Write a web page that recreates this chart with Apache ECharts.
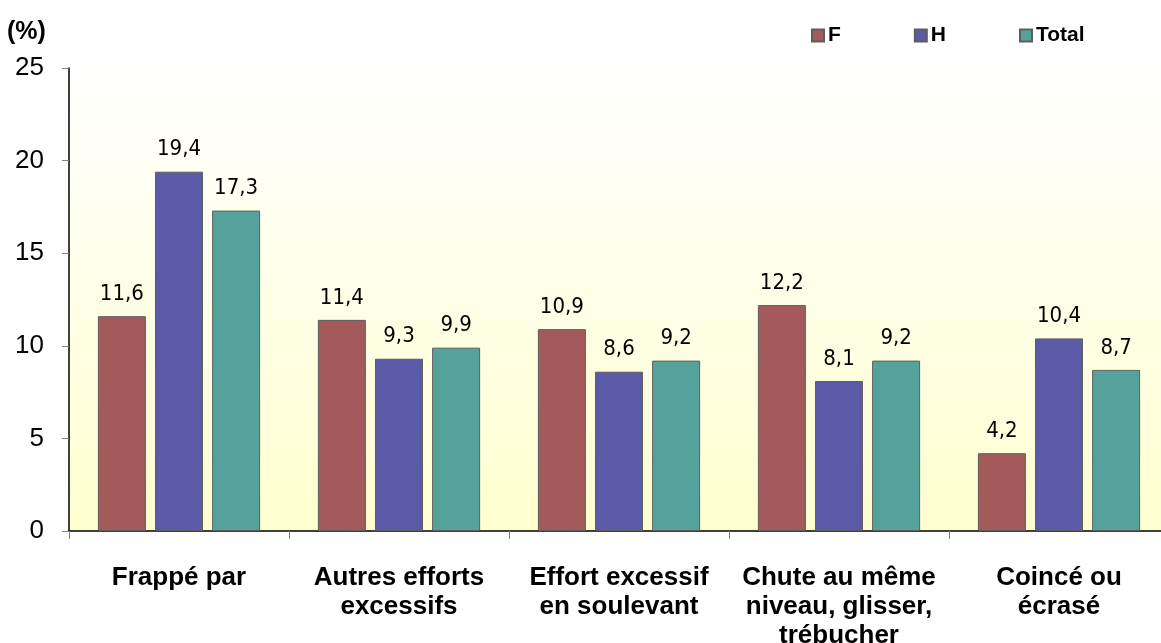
<!DOCTYPE html>
<html>
<head>
<meta charset="utf-8">
<script src="https://cdn.jsdelivr.net/npm/echarts@6/dist/echarts.min.js"></script>
<style>
html,body{margin:0;padding:0;background:#fff;}
#c{width:1161px;height:643px;}
</style>
</head>
<body>
<div id="c"></div>
<script>
var categories = ["Frappé par", "Autres efforts\nexcessifs", "Effort excessif\nen soulevant", "Chute au même\nniveau, glisser,\ntrébucher", "Coincé ou\nécrasé"];
var seriesNames = ["F", "H", "Total"];
var valuesF = [11.6, 11.4, 10.9, 12.2, 4.2];
var valuesH = [19.4, 9.3, 8.6, 8.1, 10.4];
var valuesTotal = [17.3, 9.9, 9.2, 9.2, 8.7];
var yTicks = [0, 5, 10, 15, 20, 25];

var colors = ["#a45a5a", "#5a5aa6", "#55a29c"];
var dataSets = [valuesF, valuesH, valuesTotal];

var chart = echarts.init(document.getElementById('c'), null, {renderer: 'canvas'});
var labelFont = "'Liberation Sans Narrow', 'Arial Narrow', 'DejaVu Sans Condensed', sans-serif";

var series = seriesNames.map(function (name, i) {
  return {
    name: name,
    type: 'bar',
    data: dataSets[i],
    barWidth: 48,
    barGap: '19%',
    itemStyle: {color: colors[i], borderColor: '#5e5e5e', borderWidth: 1},
    label: {
      show: true,
      position: 'top',
      distance: 11,
      color: '#000',
      fontSize: 22,
      fontFamily: labelFont,
      formatter: function (p) { return p.value.toFixed(1).replace('.', ','); }
    }
  };
});

chart.setOption({
  backgroundColor: '#ffffff',
  animation: false,
  textStyle: {fontFamily: 'Liberation Sans, Arial, sans-serif'},
  title: {
    text: '(%)',
    left: 2,
    top: 15,
    textStyle: {fontSize: 25, fontWeight: 'bold', color: '#000', fontFamily: 'Liberation Sans, Arial, sans-serif'}
  },
  legend: {
    data: seriesNames,
    left: 806,
    top: 20,
    itemWidth: 12,
    itemHeight: 12,
    itemGap: 73,
    icon: 'rect',
    textStyle: {fontSize: 21, fontWeight: 'bold', color: '#000', padding: [0, 0, 0, -1]}
  },
  grid: {
    left: 69,
    top: 68,
    right: -8,
    bottom: 112,
    outerBoundsMode: 'none',
    containLabel: false,
    show: true,
    borderWidth: 0,
    backgroundColor: new echarts.graphic.LinearGradient(0, 0, 0, 1, [
      {offset: 0, color: '#ffffff'},
      {offset: 1, color: '#ffffd0'}
    ])
  },
  xAxis: {
    type: 'category',
    data: categories,
    axisLine: {lineStyle: {color: '#000', width: 1.5}},
    axisTick: {show: true, length: 8, lineStyle: {color: '#808080'}},
    axisLabel: {
      interval: 0,
      margin: 32,
      color: '#000',
      fontSize: 26,
      fontWeight: 'bold',
      lineHeight: 29
    }
  },
  yAxis: {
    type: 'value',
    min: 0,
    max: 25,
    interval: 5,
    splitLine: {show: false},
    axisLine: {show: true, lineStyle: {color: '#000', width: 1.5}},
    axisTick: {show: true, length: 7, lineStyle: {color: '#808080'}},
    axisLabel: {
      color: '#000',
      fontSize: 26,
      margin: 25,
      formatter: function (v) { return yTicks.indexOf(v) >= 0 ? String(v) : ''; }
    }
  },
  series: series
});
</script>
</body>
</html>
